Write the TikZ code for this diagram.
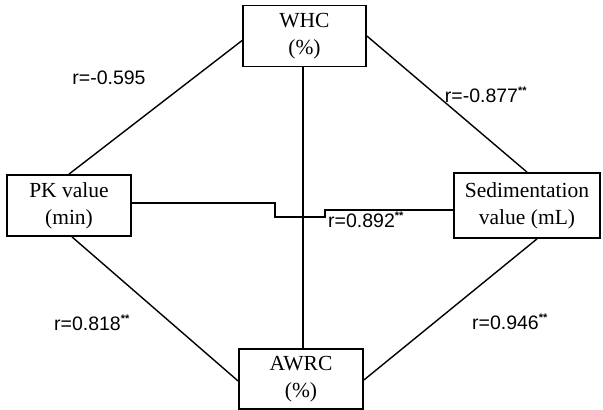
\documentclass[tikz,border=0pt]{standalone}
\usepackage{fontspec}
\setmainfont{Liberation Serif}
\newfontfamily\lblfont{Liberation Sans}
\newcommand{\sig}{\textsuperscript{\bfseries\fontsize{11}{11}\selectfont **}}
\begin{document}
\begin{tikzpicture}[x=1pt,y=-1pt,
  box/.style={draw, line width=1.8pt, inner sep=0pt, align=center,
    font=\fontsize{21.5}{27}\selectfont},
  conn/.style={line width=1.4pt},
  lbl/.style={font=\lblfont\fontsize{19.5}{22}\selectfont, inner sep=0pt}]
\useasboundingbox (0,0) rectangle (603,410);
\node[box, minimum width=123pt, minimum height=61pt] (whc) at (304.5,36) {WHC\\(\%)};
\node[box, minimum width=124pt, minimum height=61pt] (pk) at (69,205.5) {PK value\\(min)};
\node[box, minimum width=146pt, minimum height=65pt] (sed) at (527,205.5) {Sedimentation\\value (mL)};
\node[box, minimum width=124pt, minimum height=60pt] (awrc) at (301,379) {AWRC\\(\%)};
\coordinate (v) at (303,0);
\coordinate (s1) at (275,203);
\coordinate (s2) at (275,217);
\coordinate (s3) at (325,217);
\coordinate (s4) at (325,210);
% connectors
\draw[conn] (whc.south -| v) -- (awrc.north -| v);
\draw[conn] (pk.north) -- ([yshift=-4.5pt]whc.west);
\draw[conn] (whc.east) -- (sed.north);
\draw[conn] ([xshift=3pt]pk.south) -- ([yshift=-2pt]awrc.west);
\draw[conn] ([xshift=10pt]sed.south) -- ([yshift=-1pt]awrc.east);
\draw[conn] (pk.east |- s1) -- (s1) -- (s2) -- (s3) -- (s4) -- (sed.west |- s4);
% labels
\node[lbl] (l1) at (109,78) {r=-0.595};
\node[lbl] (l2) at (486,95) {r=-0.877\sig};
\node[lbl, anchor=west] (l3) at (328,220) {r=0.892\sig};
\node[lbl] (l4) at (92,323) {r=0.818\sig};
\node[lbl] (l5) at (510,322) {r=0.946\sig};
\end{tikzpicture}
\end{document}
